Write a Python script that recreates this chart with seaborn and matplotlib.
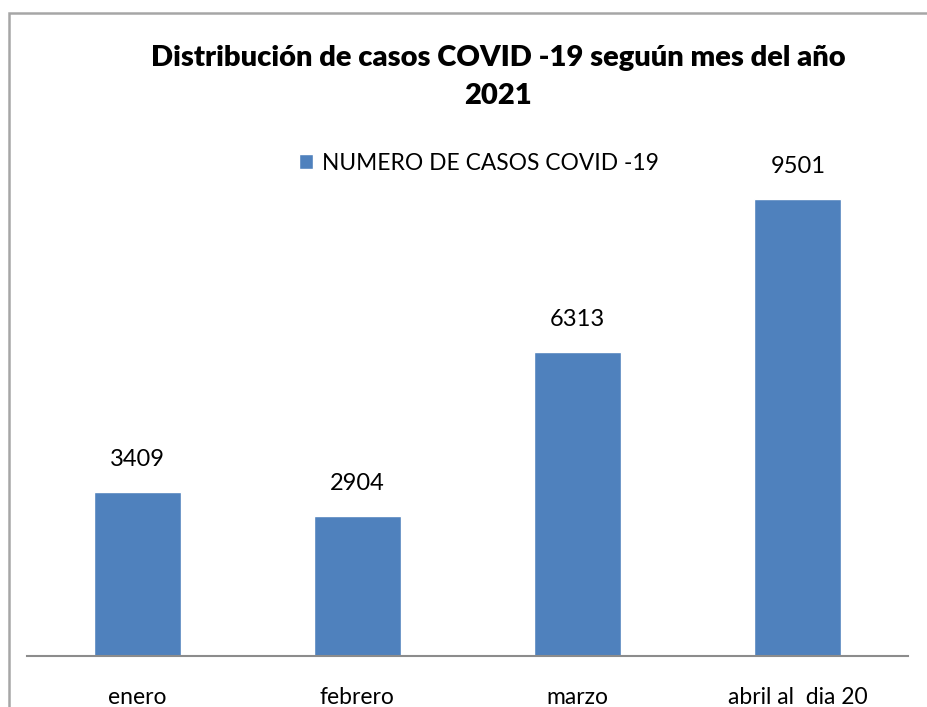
import matplotlib
matplotlib.use("Agg")
import matplotlib.pyplot as plt
import seaborn as sns
import pandas as pd
from matplotlib.patches import Rectangle, Patch

categories = ["enero", "febrero", "marzo", "abril al  dia 20"]
values = [3409, 2904, 6313, 9501]
series_name = "NUMERO DE CASOS COVID -19"
title = "Distribución de casos COVID -19 seguún mes del año\n2021"

sns.set_theme(style="white")
plt.rcParams['font.family'] = ['Lato', 'DejaVu Sans']

df = pd.DataFrame({"mes": categories, "casos": values, "serie": series_name})

W, H = 928, 707
fig = plt.figure(figsize=(W / 100, H / 100), dpi=100)
ax = fig.add_axes([27 / W, (H - 656) / H, (908 - 27) / W, (656 - 175) / H])

color = "#4F81BD"
sns.barplot(data=df, x="mes", y="casos", hue="serie", palette=[color],
            width=0.395, ax=ax, legend=False, saturation=1)

ax.set_xlim(-0.5, 3.5)
ax.set_ylim(0, 10000)
ax.set_xlabel("")
ax.set_ylabel("")
ax.set_yticks([])
ax.tick_params(axis="x", length=0, labelsize=16.5, pad=22, colors="black")
for s in ["top", "right", "left"]:
    ax.spines[s].set_visible(False)
ax.spines["bottom"].set_color("#8c8c8c")
ax.spines["bottom"].set_linewidth(1.5)

for c in ax.containers:
    ax.bar_label(c, labels=[str(v) for v in values], padding=16, fontsize=17,
                 color="black")

fig.text(498 / W, (H - 77) / H, title, ha="center", va="center",
         fontsize=21, fontweight="heavy", linespacing=1.6, color="black",
         multialignment="center")

leg = fig.legend(handles=[Patch(facecolor=color, label=series_name)],
                 loc="center", bbox_to_anchor=(479 / W, (H - 163) / H),
                 frameon=False, fontsize=16.4, handlelength=0.6, handleheight=0.6,
                 handletextpad=0.4)
for t in leg.get_texts():
    t.set_color("black")

fig.add_artist(Rectangle((9 / W, -0.1), 1.2, (H - 13) / H + 0.1,
                         transform=fig.transFigure, fill=False,
                         edgecolor="#a6a6a6", linewidth=1.8))

fig.savefig("out.png", dpi=100)
